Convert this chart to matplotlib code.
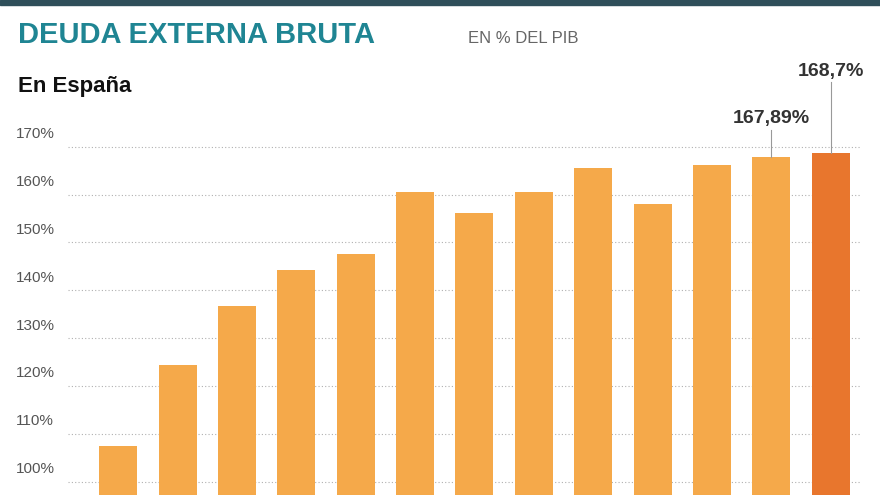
import matplotlib as mpl
mpl.use('Agg')
import matplotlib.pyplot as plt

plt.rcParams['font.family'] = ['Liberation Sans', 'DejaVu Sans']

values = [107.5, 124.4, 136.7, 144.3, 147.6, 160.5, 156.2, 160.5, 165.5, 158.0, 166.2, 167.89, 168.7]
ticks = [100, 110, 120, 130, 140, 150, 160, 170]
tick_labels = ['100%', '110%', '120%', '130%', '140%', '150%', '160%', '170%']

fig = plt.figure(figsize=(8.8, 4.95), dpi=100)
ax = fig.add_axes([0, 0, 1, 1])
ax.set_xlim(-1.99, 12.83)
ax.set_ylim(97.3, 200.6)
ax.axis('off')

# dotted gridlines with labels sitting just above them
for t, lab in zip(ticks, tick_labels):
    ax.plot([-0.85, 12.5], [t, t], color='#b0b0b0', lw=0.8, ls=(0, (1, 2)), zorder=1)
    ax.text(-1.73, t + 1.2, lab, fontsize=11, color='#555555', va='bottom', ha='left')

colors = ['#f5a94a'] * (len(values) - 1) + ['#e8762d']
ax.bar(range(len(values)), [v - 90 for v in values], bottom=90, width=0.64,
       color=colors, zorder=2)

# annotations for the last two bars
ax.plot([11, 11], [values[11], 173.5], color='#999999', lw=0.8)
ax.text(11, 174, '167,89%', fontsize=14, fontweight='bold', color='#333333',
        ha='center', va='bottom')
ax.plot([12, 12], [values[12], 183.5], color='#999999', lw=0.8)
ax.text(12, 184, '168,7%', fontsize=14, fontweight='bold', color='#333333',
        ha='center', va='bottom')

fig.text(0.02, 0.93, 'DEUDA EXTERNA BRUTA', fontsize=21, fontweight='bold',
         color='#1f8593', va='center')
fig.text(0.532, 0.923, 'EN % DEL PIB', fontsize=12, color='#666666', va='center')
fig.text(0.02, 0.825, 'En España', fontsize=16, fontweight='bold', color='#111111', va='center')
fig.patches.append(mpl.patches.Rectangle((0, 0.99), 1, 0.01, transform=fig.transFigure,
                                         color='#2f4f5a'))

fig.savefig('out.png', dpi=100)
